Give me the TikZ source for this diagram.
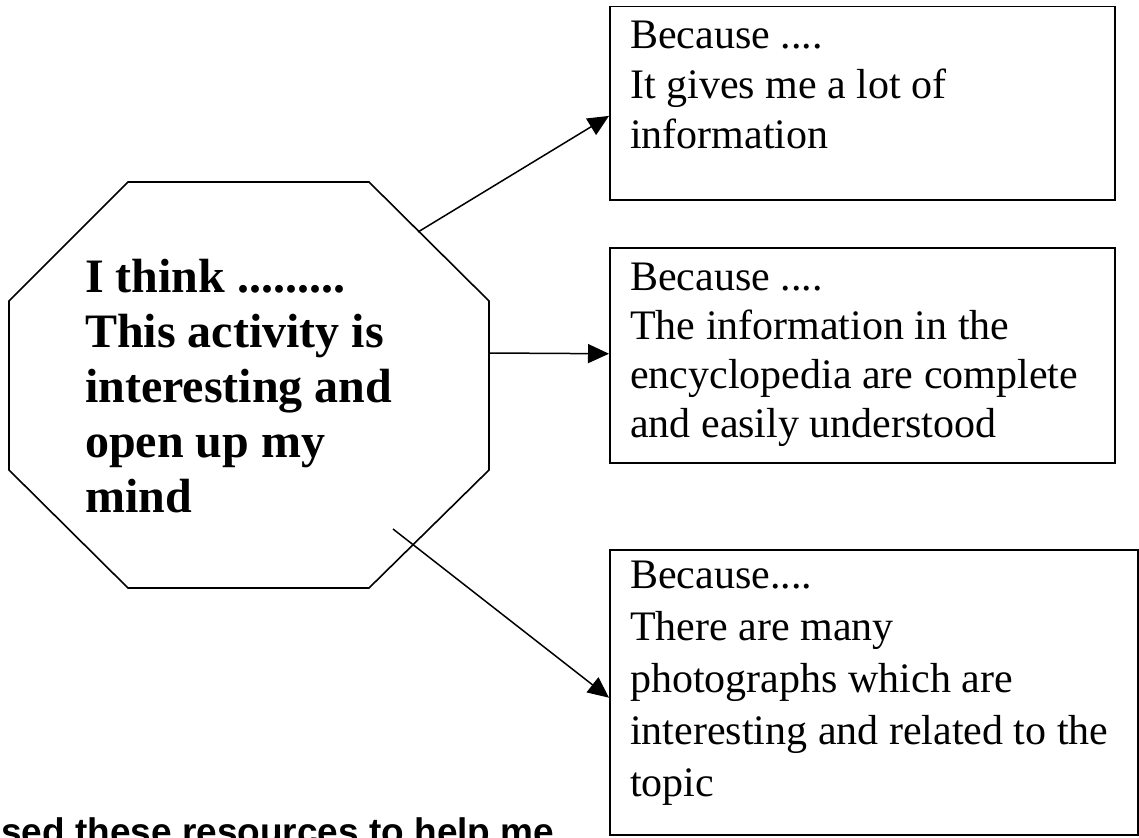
\documentclass[tikz,border=0pt]{standalone}
\usepackage{fontspec}
\setmainfont{Liberation Serif}
\newfontfamily\arialfam{Liberation Sans}
\usetikzlibrary{arrows.meta,calc}
\tikzset{
  boxframe/.style={draw=black, line width=1.5pt, minimum width=#1, anchor=north west, inner sep=0pt},
  boxtext/.style={anchor=north west, inner sep=0pt, align=left, font=\fontsize{42}{#1}\selectfont},
  conn/.style={draw=black, line width=1.5pt, -{Triangle[length=21pt,width=19pt]}},
  octline/.style={draw=black, line width=1.6pt, line join=miter},
}
\begin{document}
\begin{tikzpicture}[x=1pt,y=-1pt]
\useasboundingbox (0,0) rectangle (1139,837);
\clip (0,0) rectangle (1139,837);
\fill[white] (0,0) rectangle (1139,837);
% octagon
\coordinate (o1) at (128,182);
\coordinate (o2) at (369,182);
\coordinate (o3) at (489,301);
\coordinate (o4) at (489,470);
\coordinate (o5) at (369,588);
\coordinate (o6) at (128,588);
\coordinate (o7) at (9,470);
\coordinate (o8) at (9,301);
\draw[octline] (o1) -- (o2) -- (o3) -- (o4) -- (o5) -- (o6) -- (o7) -- (o8) -- cycle;
\node[anchor=north west, inner sep=0pt, align=left, font=\fontsize{48}{55}\selectfont\bfseries] (oct) at (85,259)
  {I think .........\\This activity is\\interesting and\\open up my\\mind};
% boxes
\node[boxframe=505pt, minimum height=193pt] (b1) at (609,6) {};
\node[boxtext=50pt] (t1) at (630,21) {Because ....\\It gives me a lot of\\information};
\node[boxframe=505pt, minimum height=215pt] (b2) at (609,247) {};
\node[boxtext=49pt] (t2) at (630,263) {Because ....\\The information in the\\encyclopedia are complete\\and easily understood};
\node[boxframe=528pt, minimum height=285pt] (b3) at (609,549) {};
\node[boxtext=52pt] (t3) at (630,561) {Because....\\There are many\\photographs which are\\interesting and related to the\\topic};
% connectors
\coordinate (s1) at (418,232);
\coordinate (s2) at (489,353);
\coordinate (s3) at (393,529);
\draw[conn] (s1) -- ($(b1.north west)!0.565!(b1.south west)$);
\draw[conn] (s2) -- ($(b2.north west)!0.493!(b2.south west)$);
\draw[conn] (s3) -- ($(b3.north west)!0.519!(b3.south west)$);
% bottom cropped text
\node[anchor=base west, inner sep=0pt, font=\arialfam\bfseries\fontsize{37}{44}\selectfont] (bottom) at (1,844) {sed these resources to help me};
\end{tikzpicture}
\end{document}
